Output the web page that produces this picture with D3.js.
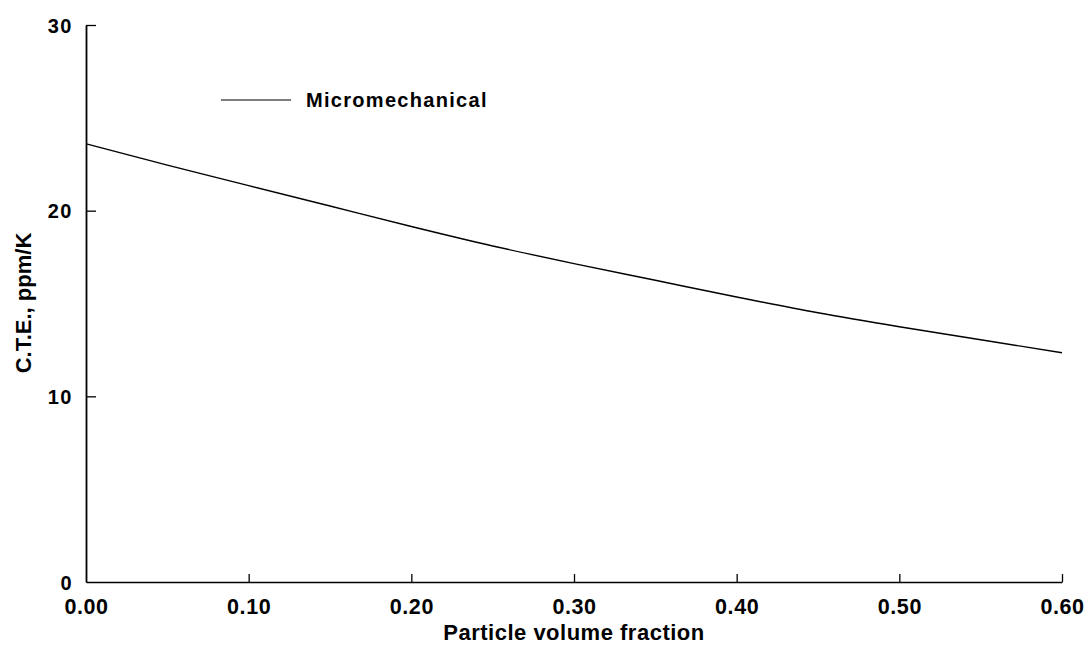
<!DOCTYPE html>
<html>
<head>
<meta charset="utf-8">
<script src="https://cdn.jsdelivr.net/npm/d3@7"></script>
<style>
  html, body { margin: 0; padding: 0; background: #fff; }
  svg { display: block; font-family: "Liberation Sans", Arial, Helvetica, sans-serif; font-weight: bold; }
</style>
</head>
<body>
<svg id="chart" width="1091" height="650"></svg>
<script>
// Data
const volumeFraction = [0.00, 0.05, 0.10, 0.15, 0.20, 0.25, 0.30, 0.35, 0.40, 0.45, 0.50, 0.55, 0.60];
const cteMicromechanical = [23.6, 22.45, 21.35, 20.25, 19.15, 18.1, 17.15, 16.25, 15.35, 14.5, 13.75, 13.05, 12.35];
const xTickValues = [0.00, 0.10, 0.20, 0.30, 0.40, 0.50, 0.60];
const yTickValues = [0, 10, 20, 30];
const seriesName = "Micromechanical";
const xTitle = "Particle volume fraction";
const yTitle = "C.T.E., ppm/K";

const svg = d3.select("#chart");
const x = d3.scaleLinear().domain([0, 0.6]).range([86, 1062]);
const y = d3.scaleLinear().domain([0, 30]).range([582, 25]);

// X axis
const xAxis = d3.axisBottom(x)
  .tickValues(xTickValues)
  .tickFormat(d3.format(".2f"))
  .tickSizeInner(-8)
  .tickSizeOuter(0)
  .tickPadding(17);
const gx = svg.append("g").attr("transform", "translate(0,582)").call(xAxis);
gx.select(".domain").attr("stroke", "#000").attr("stroke-width", 1.6);
gx.selectAll(".tick line").attr("stroke", "#000").attr("stroke-width", 1.3);
gx.selectAll(".tick").filter(d => d === 0).select("line").remove();
gx.selectAll(".tick text")
  .attr("fill", "#000")
  .style("font-size", "21.5px")
  .style("letter-spacing", "0.6px");

// Y axis
const yAxis = d3.axisLeft(y)
  .tickValues(yTickValues)
  .tickFormat(d3.format("d"))
  .tickSizeInner(-10)
  .tickSizeOuter(0)
  .tickPadding(13);
const gy = svg.append("g").attr("transform", "translate(86,0)").call(yAxis);
gy.select(".domain").attr("stroke", "#000").attr("stroke-width", 1.8);
gy.selectAll(".tick line").attr("stroke", "#000").attr("stroke-width", 1.3);
gy.selectAll(".tick").filter(d => d === 0).select("line").remove();
gy.selectAll(".tick text")
  .attr("fill", "#000")
  .attr("dy", "0.36em")
  .style("font-size", "20px")
  .style("letter-spacing", "1.5px");

// Curve
const line = d3.line()
  .x((d, i) => x(volumeFraction[i]))
  .y(d => y(d))
  .curve(d3.curveMonotoneX);
svg.append("path")
  .datum(cteMicromechanical)
  .attr("d", line)
  .attr("fill", "none")
  .attr("stroke", "#000")
  .attr("stroke-width", 1.4);

// Legend
svg.append("line")
  .attr("x1", 221).attr("x2", 291)
  .attr("y1", 100).attr("y2", 100)
  .attr("stroke", "#000").attr("stroke-width", 1.2);
svg.append("text")
  .attr("x", 306).attr("y", 107)
  .style("font-size", "20px")
  .style("letter-spacing", "1.3px")
  .attr("fill", "#000")
  .text(seriesName);

// Axis titles
svg.append("text")
  .attr("x", 574).attr("y", 640)
  .attr("text-anchor", "middle")
  .style("font-size", "22px")
  .style("letter-spacing", "0.5px")
  .attr("fill", "#000")
  .text(xTitle);

svg.append("text")
  .attr("transform", "translate(31,303) rotate(-90)")
  .attr("text-anchor", "middle")
  .style("font-size", "22px")
  .attr("fill", "#000")
  .text(yTitle);
</script>
</body>
</html>
